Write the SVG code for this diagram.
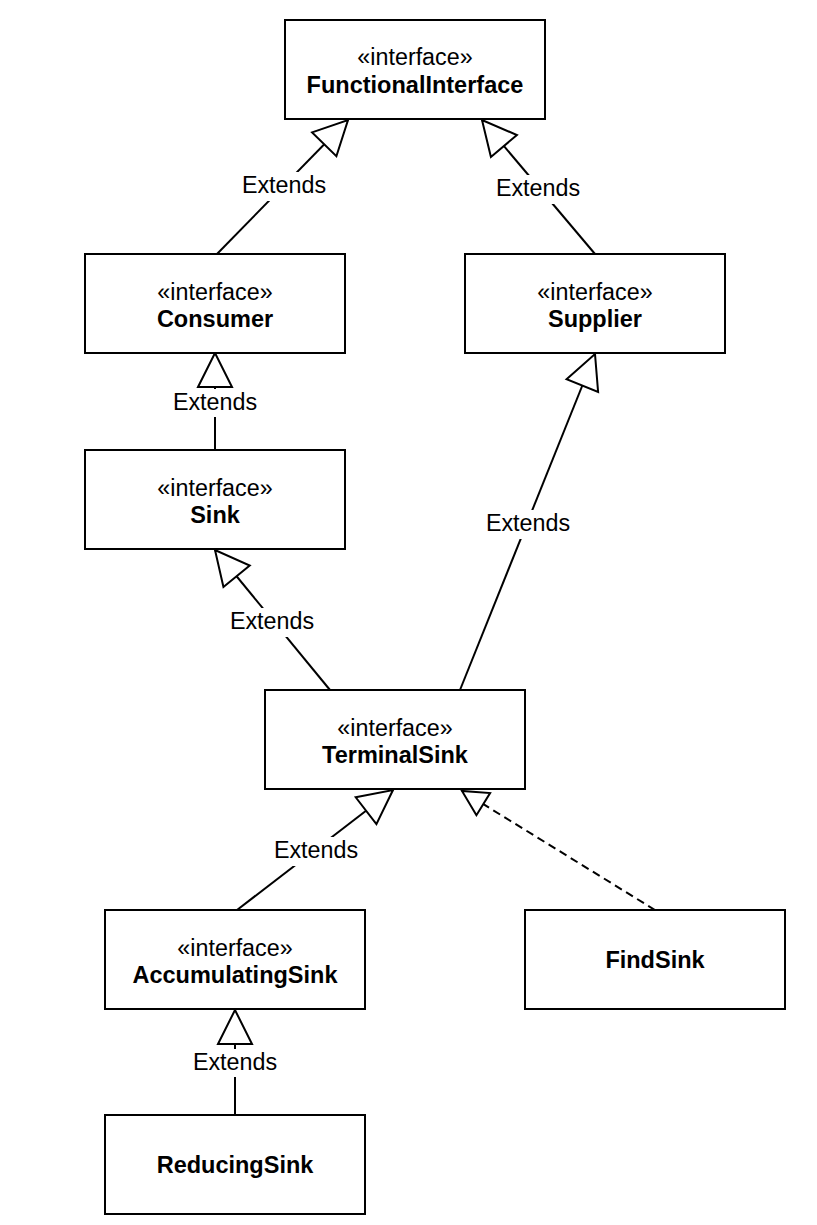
<svg xmlns="http://www.w3.org/2000/svg" width="817" height="1225" viewBox="0 0 817 1225">
  <style>
    .box { fill: #ffffff; stroke: #000000; stroke-width: 2; }
    .st { font-family: "Liberation Sans", Arial, sans-serif; font-size: 23.3px; fill: #000000; text-anchor: middle; }
    .nm { font-family: "Liberation Sans", Arial, sans-serif; font-size: 23.5px; font-weight: bold; fill: #000000; text-anchor: middle; }
    .edge { fill: none; stroke: #000000; stroke-width: 2; }
    .dash { stroke-dasharray: 8 5; }
    .lbl-bg { fill: #ffffff; stroke: none; }
    .lbl { font-family: "Liberation Sans", Arial, sans-serif; font-size: 23.3px; fill: #000000; text-anchor: middle; }
  </style>
  <defs>
    <!-- hollow generalization triangle -->
    <marker id="gen" markerUnits="userSpaceOnUse" markerWidth="40" markerHeight="40" refX="34" refY="17" orient="auto" overflow="visible">
      <path d="M0,0 L34,17 L0,34 Z" fill="#ffffff" stroke="#000000" stroke-width="2" stroke-linejoin="miter"/>
    </marker>
    <!-- smaller hollow triangle for realization -->
    <marker id="real" markerUnits="userSpaceOnUse" markerWidth="30" markerHeight="30" refX="25" refY="13" orient="auto" overflow="visible">
      <path d="M0,0 L25,13 L0,26 Z" fill="#ffffff" stroke="#000000" stroke-width="2" stroke-dasharray="none"/>
    </marker>
  </defs>

  <rect width="817" height="1225" fill="#ffffff"/>

  <g id="connectors">
    <!-- Consumer -> FunctionalInterface -->
    <line class="edge" x1="217" y1="254" x2="348" y2="120" marker-end="url(#gen)"/>
    <!-- Supplier -> FunctionalInterface -->
    <line class="edge" x1="595" y1="254" x2="482" y2="120" marker-end="url(#gen)"/>
    <!-- Sink -> Consumer -->
    <line class="edge" x1="215" y1="450" x2="215" y2="353" marker-end="url(#gen)"/>
    <!-- TerminalSink -> Sink -->
    <line class="edge" x1="330" y1="690" x2="215" y2="550" marker-end="url(#gen)"/>
    <!-- TerminalSink -> Supplier -->
    <line class="edge" x1="460" y1="690" x2="595" y2="354" marker-end="url(#gen)"/>
    <!-- AccumulatingSink -> TerminalSink -->
    <line class="edge" x1="237" y1="910" x2="393" y2="790" marker-end="url(#gen)"/>
    <!-- FindSink implements TerminalSink -->
    <line class="edge dash" x1="655" y1="910" x2="462" y2="791" marker-end="url(#real)"/>
    <!-- ReducingSink -> AccumulatingSink -->
    <line class="edge" x1="235" y1="1115" x2="235" y2="1010" marker-end="url(#gen)"/>

    <!-- edge labels -->
    <rect class="lbl-bg" x="240" y="172" width="88" height="29"/>
    <text class="lbl" x="284" y="193">Extends</text>
    <rect class="lbl-bg" x="494" y="175" width="88" height="29"/>
    <text class="lbl" x="538" y="196">Extends</text>
    <rect class="lbl-bg" x="171" y="389" width="88" height="28"/>
    <text class="lbl" x="215" y="410">Extends</text>
    <rect class="lbl-bg" x="228" y="608" width="88" height="29"/>
    <text class="lbl" x="272" y="629">Extends</text>
    <rect class="lbl-bg" x="484" y="510" width="88" height="29"/>
    <text class="lbl" x="528" y="531">Extends</text>
    <rect class="lbl-bg" x="272" y="837" width="88" height="29"/>
    <text class="lbl" x="316" y="858">Extends</text>
    <rect class="lbl-bg" x="191" y="1049" width="88" height="28"/>
    <text class="lbl" x="235" y="1070">Extends</text>
  </g>

  <g id="FunctionalInterface">
    <rect class="box" x="285" y="20" width="260" height="99"/>
    <text class="st" x="415" y="65">«interface»</text>
    <text class="nm" x="415" y="93">FunctionalInterface</text>
  </g>
  <g id="Consumer">
    <rect class="box" x="85" y="254" width="260" height="99"/>
    <text class="st" x="215" y="300">«interface»</text>
    <text class="nm" x="215" y="327">Consumer</text>
  </g>
  <g id="Supplier">
    <rect class="box" x="465" y="254" width="260" height="99"/>
    <text class="st" x="595" y="300">«interface»</text>
    <text class="nm" x="595" y="327">Supplier</text>
  </g>
  <g id="Sink">
    <rect class="box" x="85" y="450" width="260" height="99"/>
    <text class="st" x="215" y="496">«interface»</text>
    <text class="nm" x="215" y="523">Sink</text>
  </g>
  <g id="TerminalSink">
    <rect class="box" x="265" y="690" width="260" height="99"/>
    <text class="st" x="395" y="736">«interface»</text>
    <text class="nm" x="395" y="763">TerminalSink</text>
  </g>
  <g id="AccumulatingSink">
    <rect class="box" x="105" y="910" width="260" height="99"/>
    <text class="st" x="235" y="956">«interface»</text>
    <text class="nm" x="235" y="983">AccumulatingSink</text>
  </g>
  <g id="FindSink">
    <rect class="box" x="525" y="910" width="260" height="99"/>
    <text class="nm" x="655" y="968">FindSink</text>
  </g>
  <g id="ReducingSink">
    <rect class="box" x="105" y="1115" width="260" height="99"/>
    <text class="nm" x="235" y="1173">ReducingSink</text>
  </g>
</svg>
